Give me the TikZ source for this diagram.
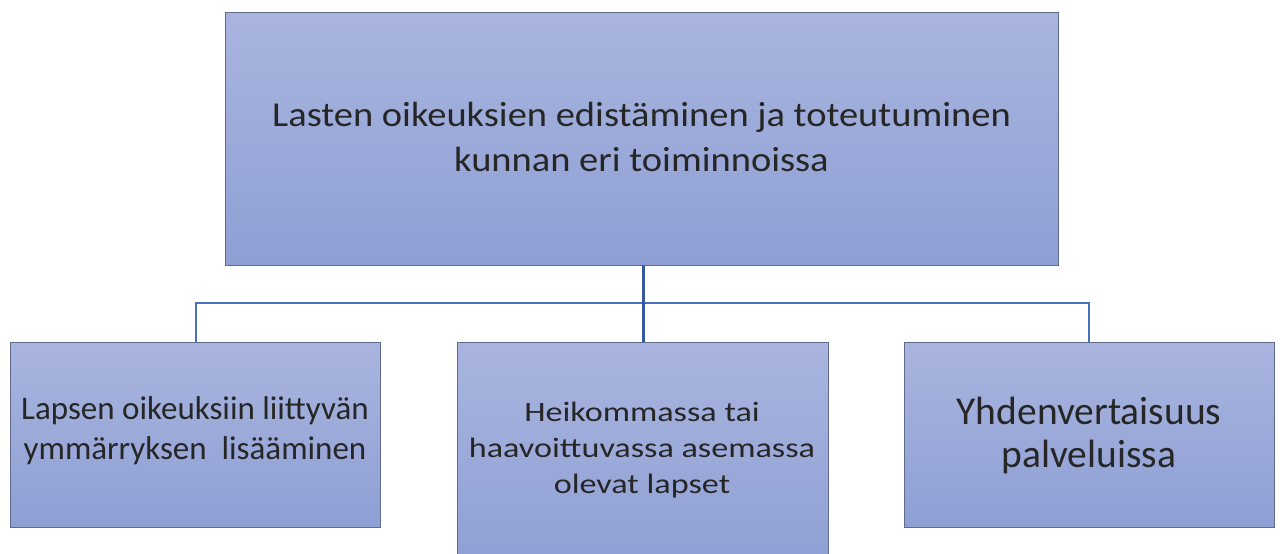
\documentclass[tikz,border=0pt]{standalone}
\usepackage{fontspec}
\setmainfont{Carlito}
\newfontfamily\stretchA[FakeStretch=1.1]{Carlito}
\newfontfamily\stretchB[FakeStretch=1.22]{Carlito}
\definecolor{boxtop}{HTML}{A9B5DF}
\definecolor{boxbot}{HTML}{8E9FD4}
\definecolor{boxline}{HTML}{5F6B8C}
\definecolor{conn}{HTML}{4A70BE}
\definecolor{connd}{HTML}{3558A0}
\begin{document}
\begin{tikzpicture}[x=1pt,y=-1pt,
  box/.style={draw=boxline,line width=1pt,top color=boxtop,bottom color=boxbot,inner sep=0pt},
  lbl/.style={align=center,text=black!85}]
\useasboundingbox (0,0) rectangle (1283,554);
\begin{scope}
\clip (0,0) rectangle (1283,554);
\path[box] (225,12) rectangle (1058,265);
\path[box] (10,342) rectangle (380,527);
\path[box] (457,342) rectangle (828,570);
\path[box] (904,342) rectangle (1274,527);
\end{scope}
\coordinate (topb) at (643,265);
\coordinate (midt) at (643,342);
\coordinate (lt) at (196,342);
\coordinate (rt) at (1089,342);
\coordinate (jl) at (196,303);
\coordinate (jr) at (1089,303);
\node[lbl,font=\stretchA\fontsize{35}{45}\selectfont] (top) at (641.5,137) {Lasten oikeuksien edistäminen ja toteutuminen\\kunnan eri toiminnoissa};
\node[lbl,font=\fontsize{33}{40}\selectfont] (left) at (195,431) {Lapsen oikeuksiin liittyvän\\ymmärryksen\ \ lisääminen};
\node[lbl,font=\stretchB\fontsize{28}{36}\selectfont] (mid) at (642,450) {Heikommassa tai\\haavoittuvassa asemassa\\olevat lapset};
\node[lbl,font=\fontsize{39.5}{43}\selectfont] (right) at (1089,435) {Yhdenvertaisuus\\palveluissa};
\draw[conn,line width=1.5pt] (lt) -- (jl) -- (jr) -- (rt);
\draw[connd,line width=3pt] (topb) -- (midt);
\end{tikzpicture}
\end{document}
